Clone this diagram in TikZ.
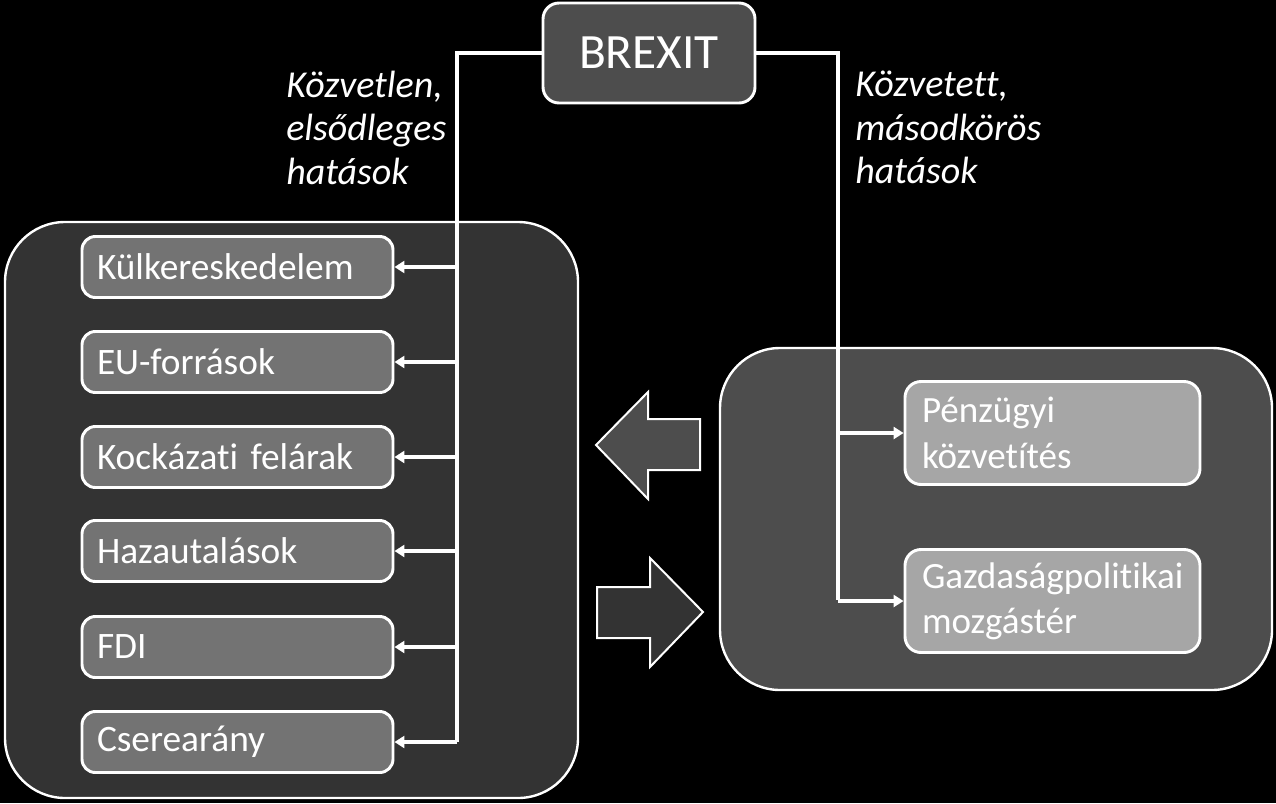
\documentclass[tikz,border=0pt]{standalone}
\usepackage{fontspec}
\setmainfont{Carlito}[Ligatures = NoCommon]
\usetikzlibrary{arrows.meta}
\tikzset{>={Triangle[length=7.5pt, width=9pt]}}
\definecolor{grpDark}{HTML}{333333}
\definecolor{grpMid}{HTML}{4D4D4D}
\definecolor{boxMid}{HTML}{737373}
\definecolor{boxLight}{HTML}{A6A6A6}
\tikzstyle{group} = [rectangle, rounded corners = 45pt, draw = white, line width = 1.8pt]
\tikzstyle{leftbox} = [rectangle, rounded corners = 10pt, draw = white, line width = 2.2pt, fill = boxMid, text = white, minimum height = 45.75pt, inner xsep = 11.25pt, text width = 210.75pt, align = left, font = \fontsize{28}{34}\selectfont]
\tikzstyle{rightbox} = [rectangle, rounded corners = 12pt, draw = white, line width = 2.2pt, fill = boxLight, text = white, minimum height = 77.25pt, inner xsep = 12.75pt, text width = 195.75pt, align = left, font = \fontsize{27.8}{34}\selectfont]
\tikzstyle{note} = [text = white, align = left, inner sep = 0pt, font = \fontsize{28.5}{32.5}\selectfont\itshape]
\tikzstyle{conn} = [draw = white, line width = 2.4pt]
\tikzstyle{blockarrow} = [draw = white, line width = 1.5pt, line join = miter]

\begin{document}
\begin{tikzpicture}[x = 0.75pt, y = -0.75pt]
\fill [black] (0,0) rectangle (1276,803);

% groups
\node (leftGroup) [group, fill = grpDark, minimum width = 429.75pt, minimum height = 432pt] at (291.5,510) {};
\node (rightGroup) [group, fill = grpMid, minimum width = 414pt, minimum height = 256.5pt] at (996,519) {};

% top
\node (brexit) [rectangle, rounded corners = 12pt, draw = white, line width = 2.2pt, fill = grpMid, text = white, minimum width = 159pt, minimum height = 75pt, font = \fontsize{37}{40}\selectfont] at (649,53) {BREXIT};

\node (directNote) [note, anchor = north west] at (286,71) {Közvetlen,\\elsődleges\\hatások};
\node (indirectNote) [note, anchor = north west] at (855,71) {Közvetett,\\másodkörös\\hatások};

% channels
\foreach \name/\txt/\y in {kulker/Külkereskedelem/267, eufor/EU-források/362, kock/Kockázati felárak/457, haza/Hazautalások/551, fdi/FDI/647, csere/Cserearány/742}
  \node (\name) [leftbox] at (237.5,\y) {\txt};

\node (penz) [rightbox] at (1052.5,433) {Pénzügyi\\közvetítés};
\node (gazd) [rightbox] at (1052.5,601) {Gazdaságpolitikai\\mozgástér};

% connectors
\coordinate (trunkL) at (457,742);
\coordinate (trunkR) at (838,600);
\draw [conn] (brexit.west) -| (trunkL);
\foreach \name in {kulker, eufor, kock, haza, fdi, csere}
  \draw [conn, ->] (\name.east -| trunkL) -- (\name.east);
\draw [conn] (brexit.east) -| (trunkR);
\draw [conn, ->] (penz.west -| trunkR) -- (penz.west);
\draw [conn, ->] (gazd.west -| trunkR) -- (gazd.west);

% block arrows
\draw [blockarrow, fill = grpMid] (700,419) -- (648,419) -- (648,392) -- (596,445) -- (648,499) -- (648,470) -- (700,470) -- cycle;
\draw [blockarrow, fill = grpDark] (597,587) -- (650,587) -- (650,558) -- (703,612) -- (650,667) -- (650,638) -- (597,638) -- cycle;
\end{tikzpicture}
\end{document}
